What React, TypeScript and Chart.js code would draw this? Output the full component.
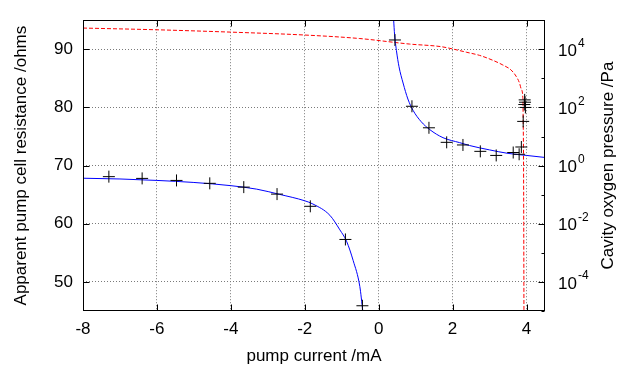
import React, { useEffect, useRef } from 'react';
import { Chart, registerables } from 'chart.js';

Chart.register(...registerables);

const FONT = 'Liberation Sans, Arial, Helvetica, sans-serif';

// axis ticks
const xTicks = [-8, -6, -4, -2, 0, 2, 4];
const leftTicks = [50, 60, 70, 80, 90];
const rightMajorExponents = [-4, -2, 0, 2, 4];
const rightMinorExponents = [-5, -3, -1, 1, 3, 5];

// measured points (pump current mA, apparent resistance ohms)
const measuredCurrent = [-7.30, -6.40, -5.47, -4.57, -3.65, -2.75, -1.85, -0.90, -0.44, 0.44, 0.90, 1.36, 1.84, 2.28, 2.75, 3.18, 3.64, 3.80, 3.86, 3.91, 3.95, 3.96, 3.94, 3.97];
const measuredResistance = [68.1, 67.8, 67.45, 66.95, 66.3, 65.1, 63.0, 57.3, 45.9, 91.6, 80.2, 76.5, 74.0, 73.55, 72.45, 71.75, 72.25, 71.95, 73.2, 77.6, 81.3, 80.9, 80.5, 80.0];

// fitted resistance curve, negative-current branch
const fitNegCurrent = [-8, -7, -6, -5, -4, -3.3, -2.68, -2.0, -1.78, -1.32, -1.05, -0.87, -0.69, -0.51, -0.43];
const fitNegResistance = [67.83, 67.7, 67.45, 67.1, 66.55, 65.95, 65.05, 63.95, 63.4, 61.45, 58.95, 57.0, 53.67, 49.2, 45.0];

// fitted resistance curve, positive-current branch
const fitPosCurrent = [0.405, 0.43, 0.48, 0.55, 0.66, 0.79, 0.93, 1.15, 1.38, 1.74, 2.19, 2.46, 3.0, 3.5, 4.0, 4.5];
const fitPosResistance = [95.0, 92.55, 89.8, 87.0, 84.2, 81.45, 79.5, 77.55, 76.2, 74.8, 73.95, 73.45, 72.7, 72.1, 71.75, 71.4];

// cavity oxygen pressure (Pa)
const pressureCurrent = [-8, -6, -4, -2, -0.51, 0.84, 1.69, 2.01, 2.37, 2.73, 3.09, 3.36, 3.58, 3.72, 3.81, 3.86, 3.90, 3.91, 3.92, 3.925, 3.93];
const pressurePa = [53700, 46800, 38900, 30900, 23400, 15100, 12300, 10200, 7940, 6170, 4170, 2880, 1950, 1175, 692, 417, 219, 34, 1, 0.01, 0.00001];

const pts = (xs: number[], ys: number[]) => xs.map((x, i) => ({ x, y: ys[i] }));

const framePlugin = {
  id: 'gnuplotFrame',
  afterDraw(chart: any) {
    const { ctx, chartArea } = chart;
    const { left, right, top, bottom } = chartArea;
    const xs = chart.scales.x;
    const ys = chart.scales.y;
    const y2 = chart.scales.y2;
    const L = Math.round(left) + 0.5;
    const R = Math.round(right) - 0.5;
    const T = Math.round(top) + 0.5;
    const B = Math.round(bottom) - 0.5;
    ctx.save();
    ctx.strokeStyle = '#000';
    ctx.lineWidth = 1;
    ctx.setLineDash([]);
    ctx.beginPath();
    const major = 6;
    const minor = 3;
    xTicks.forEach((v) => {
      const p = Math.round(xs.getPixelForValue(v)) + 0.5;
      ctx.moveTo(p, B);
      ctx.lineTo(p, B - major);
      ctx.moveTo(p, T);
      ctx.lineTo(p, T + major);
    });
    leftTicks.forEach((v) => {
      const p = Math.round(ys.getPixelForValue(v)) + 0.5;
      ctx.moveTo(L, p);
      ctx.lineTo(L + major, p);
    });
    rightMajorExponents.forEach((e) => {
      const p = Math.round(y2.getPixelForValue(Math.pow(10, e))) + 0.5;
      ctx.moveTo(R, p);
      ctx.lineTo(R - major, p);
    });
    rightMinorExponents.forEach((e) => {
      const p = Math.round(y2.getPixelForValue(Math.pow(10, e))) + 0.5;
      ctx.moveTo(R, p);
      ctx.lineTo(R - minor, p);
    });
    ctx.stroke();
    ctx.strokeRect(L, T, R - L, B - T);

    // right axis labels with superscripts
    ctx.fillStyle = '#000';
    ctx.textAlign = 'left';
    ctx.textBaseline = 'middle';
    const lx = right + 13;
    rightMajorExponents.forEach((e) => {
      const p = y2.getPixelForValue(Math.pow(10, e));
      ctx.font = `17px ${FONT}`;
      ctx.fillText('10', lx, p + 2);
      const w = ctx.measureText('10').width;
      ctx.font = `12px ${FONT}`;
      ctx.fillText(String(e), lx + w + 1, p - 6);
    });

    // right axis title
    ctx.font = `17px ${FONT}`;
    ctx.textAlign = 'center';
    ctx.textBaseline = 'middle';
    ctx.translate(608, (top + bottom) / 2);
    ctx.rotate(-Math.PI / 2);
    ctx.fillText('Cavity oxygen pressure /Pa', 0, 0);
    ctx.restore();
  },
};

export default function App() {
  const ref = useRef<HTMLCanvasElement | null>(null);

  useEffect(() => {
    if (!ref.current) return;
    const gridColor = '#7a7a7a';
    const chart = new Chart(ref.current, {
      type: 'scatter',
      data: {
        datasets: [
          {
            label: 'measured',
            data: pts(measuredCurrent, measuredResistance),
            yAxisID: 'y',
            pointStyle: 'cross',
            pointRadius: 6,
            pointBorderWidth: 1,
            borderColor: '#000',
            backgroundColor: '#000',
            showLine: false,
          },
          {
            label: 'fit negative',
            data: pts(fitNegCurrent, fitNegResistance),
            yAxisID: 'y',
            showLine: true,
            borderColor: '#0000ff',
            borderWidth: 1,
            pointRadius: 0,
            cubicInterpolationMode: 'monotone',
          },
          {
            label: 'fit positive',
            data: pts(fitPosCurrent, fitPosResistance),
            yAxisID: 'y',
            showLine: true,
            borderColor: '#0000ff',
            borderWidth: 1,
            pointRadius: 0,
            cubicInterpolationMode: 'monotone',
          },
          {
            label: 'pressure',
            data: pts(pressureCurrent, pressurePa),
            yAxisID: 'y2',
            showLine: true,
            borderColor: '#ff0000',
            borderWidth: 1,
            borderDash: [4, 2],
            pointRadius: 0,
            cubicInterpolationMode: 'monotone',
          },
        ],
      },
      options: {
        responsive: false,
        animation: false,
        devicePixelRatio: 1,
        layout: { padding: { top: 12, left: 0, right: 0, bottom: 0 } },
        plugins: { legend: { display: false }, tooltip: { enabled: false } },
        scales: {
          x: {
            type: 'linear',
            position: 'bottom',
            min: -8,
            max: 4.5,
            ticks: {
              stepSize: 2,
              includeBounds: false,
              color: '#000',
              font: { family: FONT, size: 17 },
              padding: 8,
              maxRotation: 0,
            },
            afterBuildTicks: (s: any) => {
              s.ticks = xTicks.map((v) => ({ value: v }));
            },
            grid: { color: gridColor, lineWidth: 1, drawTicks: false },
            border: { display: false, dash: [1, 2] },
            title: {
              display: true,
              text: 'pump current /mA',
              color: '#000',
              font: { family: FONT, size: 17 },
              padding: { top: 0, bottom: 2 },
            },
            afterFit: (s: any) => {
              s.height = 58;
            },
          },
          y: {
            type: 'linear',
            position: 'left',
            min: 45,
            max: 95,
            ticks: {
              includeBounds: false,
              color: '#000',
              font: { family: FONT, size: 17 },
              padding: 10,
            },
            afterBuildTicks: (s: any) => {
              s.ticks = leftTicks.map((v) => ({ value: v }));
            },
            grid: { color: gridColor, lineWidth: 1, drawTicks: false },
            border: { display: false, dash: [1, 2] },
            title: {
              display: true,
              text: 'Apparent pump cell resistance /ohms',
              color: '#000',
              font: { family: FONT, size: 17 },
              padding: { top: 11, bottom: 0 },
            },
            afterFit: (s: any) => {
              s.width = 83;
            },
          },
          y2: {
            type: 'logarithmic',
            position: 'right',
            min: 1e-5,
            max: 1e5,
            ticks: { display: false },
            grid: { display: false, drawTicks: false },
            border: { display: false },
            afterFit: (s: any) => {
              s.width = 75;
            },
          },
        },
      } as any,
      plugins: [framePlugin],
    });
    return () => chart.destroy();
  }, []);

  return (
    <div style={{ position: 'absolute', left: 0, top: 0, width: 620, height: 369, background: '#fff' }}>
      <canvas ref={ref} width={620} height={369} style={{ display: 'block', width: 620, height: 369 }} />
    </div>
  );
}
